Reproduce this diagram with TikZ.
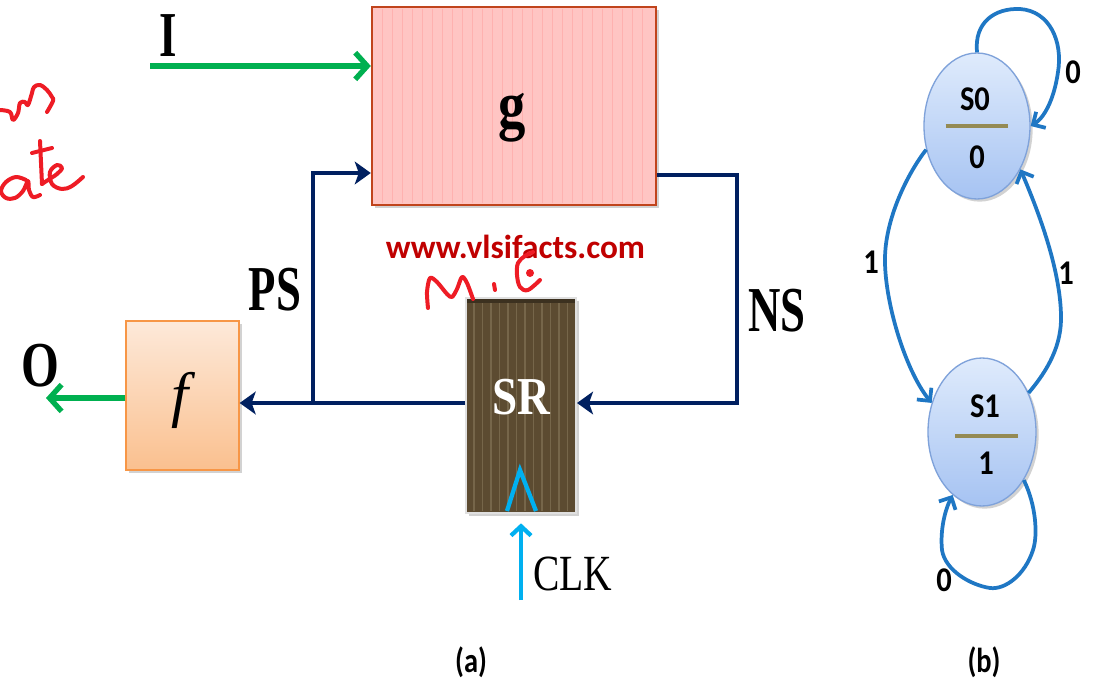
\documentclass[tikz,border=0pt]{standalone}
\usepackage{fontspec}
\setmainfont{Liberation Serif}
\newfontfamily\cali{Carlito}
\usetikzlibrary{arrows.meta,shapes.geometric,shadows,calc}
\definecolor{navy}{HTML}{002060}
\definecolor{grn}{HTML}{00B050}
\definecolor{cyanc}{HTML}{00B0F0}
\definecolor{pinkf}{HTML}{FFC5C3}
\definecolor{rust}{HTML}{C0441C}
\definecolor{srbrown}{HTML}{5C4B31}
\definecolor{srstripe}{HTML}{76664A}
\definecolor{ftop}{HTML}{FDE9D9}
\definecolor{fbot}{HTML}{FAC08F}
\definecolor{fdraw}{HTML}{F79646}
\definecolor{sttop}{HTML}{DFEBFC}
\definecolor{stbot}{HTML}{A6C3F2}
\definecolor{stdraw}{HTML}{7FA2DA}
\definecolor{stline}{HTML}{1F77C4}
\definecolor{olive}{HTML}{948A54}
\definecolor{webred}{HTML}{C00000}
\definecolor{pen}{HTML}{EE1C25}
\newcommand\sqz[2]{\scalebox{#1}[1]{#2}}
\begin{document}
\begin{tikzpicture}[x=0.75pt,y=-0.75pt,
  wire/.style={navy,line width=3.5pt},
  navytip/.style={-{Stealth[length=12pt,width=17pt,inset=3pt]}},
  grnarrow/.style={grn,line width=4pt,-{Straight Barb[length=9pt,width=20pt]}},
  clkline/.style={cyanc,line width=3.2pt},
  bigl/.style={inner sep=0,font=\fontsize{48}{50}\selectfont\bfseries},
  shade1/.style={drop shadow={opacity=0.35,shadow xshift=2pt,shadow yshift=-2pt}},
  gbox/.style={rectangle,fill=pinkf,draw=rust,line width=1.8pt,inner sep=0,shade1},
  srbox/.style={rectangle,fill=srbrown,draw=black!12,line width=1.5pt,inner sep=0,shade1},
  fbox/.style={rectangle,top color=ftop,bottom color=fbot,draw=fdraw,line width=1pt,inner sep=0,shade1},
  state/.style={ellipse,inner sep=0,top color=sttop,bottom color=stbot,draw=stdraw,line width=1pt,shade1},
  stxt/.style={inner sep=0,font=\cali\bfseries\fontsize{26}{28}\selectfont},
  sarrow/.style={stline,line width=2.8pt,-{Straight Barb[length=7pt,width=14pt]}},
  divider/.style={olive,line width=3pt},
  pensty/.style={pen,line width=3pt,line cap=round,line join=round}]
\fill[white] (0,0) rectangle (1097,685);
\useasboundingbox (0,0) rectangle (1097,685);

% ---- boxes ----
\node[gbox,minimum width=213pt,minimum height=148.5pt] (g) at (514,106) {};
\foreach \x in {382,392,...,650} \draw[red!40!pinkf,line width=0.5pt,opacity=0.25] (\x,9) -- (\x,203);
\node[inner sep=0,font=\fontsize{50}{52}\selectfont\bfseries] (glab) at (512,118) {\sqz{0.82}{g}};

\node[srbox,minimum width=82.5pt,minimum height=161.25pt] (SR) at (521,405.5) {};
\foreach \x in {474,482.5,...,572} \draw[srstripe,line width=0.8pt] (\x,300) -- (\x,511);
\draw[black!35!srbrown,line width=2.5pt] (467,301) -- (575,301);
\node[inner sep=0,anchor=base,text=white,font=\fontsize{40}{42}\selectfont\bfseries] (SRlab) at (521,414) {\sqz{0.85}{SR}};

\node[fbox,minimum width=84.75pt,minimum height=111.75pt] (f) at (182.5,395.5) {};
\node[inner sep=0,font=\fontsize{46}{48}\selectfont\itshape] (flab) at (180,400) {f};

% ---- wires ----
\coordinate (Iin) at (150,66);
\draw[grnarrow] (Iin) -- (g.west |- Iin);
\node[bigl,anchor=base] (Ilab) at (168,57) {\sqz{0.7}{I}};

\coordinate (nsT) at (737,175);
\coordinate (nsB) at (737,403);
\draw[wire,navytip] (g.east |- nsT) -- (nsT) -- (nsB) -- (SR.east |- nsB);
\coordinate (psT) at (313,173);
\coordinate (psB) at (313,403);
\draw[wire,navytip] (SR.west |- psB) -- (psB) -- (psT) -- (g.west |- psT);
\draw[wire,navytip] (psB) -- (f.east |- psB);

\coordinate (Oout) at (46,398);
\draw[grnarrow] (f.west |- Oout) -- (Oout);
\node[bigl,anchor=base] (Olab) at (40,386) {\sqz{0.76}{O}};

\node[bigl,anchor=base] (PSlab) at (275,310) {\sqz{0.7}{PS}};
\node[bigl,anchor=base] (NSlab) at (777,331) {\sqz{0.7}{NS}};

% clock
\coordinate (clkS) at (521,600);
\draw[clkline,-{Straight Barb[length=7pt,width=15pt]}] (clkS) -- ([yshift=-7pt]SR.south);
\draw[clkline] (507,511) -- (520,470) -- (536,511);
\node[inner sep=0,anchor=base west,font=\fontsize{38}{40}\selectfont] (CLK) at (533,590) {\sqz{0.78}{CLK}};

% web text
\node[inner sep=0,anchor=base,text=webred,font=\cali\bfseries\fontsize{25}{27}\selectfont] (web) at (515.5,258) {www.vlsifacts.com};

% captions
\node[inner sep=0,font=\cali\bfseries\fontsize{26}{28}\selectfont] (capa) at (471,662) {\sqz{0.82}{(a)}};
\node[inner sep=0,font=\cali\bfseries\fontsize{26}{28}\selectfont] (capb) at (984,662) {\sqz{0.82}{(b)}};

% ---- state diagram ----
\node[state,minimum width=79.5pt,minimum height=109.5pt] (S0) at (977,126) {};
\node[state,minimum width=81pt,minimum height=111pt] (S1) at (982,432) {};
\draw[divider] ([xshift=-23.5pt]S0.center) -- ([xshift=23.5pt]S0.center);
\draw[divider] ([xshift=-20pt,yshift=-3pt]S1.center) -- ([xshift=27pt,yshift=-3pt]S1.center);
\node[stxt] (S0n) at (975,99) {\sqz{0.88}{S0}};
\node[stxt] (S0o) at (977,157) {\sqz{0.88}{0}};
\node[stxt] (S1n) at (985,406) {\sqz{0.88}{S1}};
\node[stxt] (S1o) at (986,463) {\sqz{0.88}{1}};

\draw[sarrow] (S0.north) .. controls (974,22) and (995,8) .. (1020,9) .. controls (1050,11) and (1063,42) .. (1058,72) .. controls (1054,100) and (1044,118) .. (S0.east);
\draw[sarrow] (S0.205) .. controls (910,170) and (886,215) .. (885,257) .. controls (884,300) and (905,370) .. (S1.150);
\draw[sarrow] (S1.40) .. controls (1048,370) and (1062,345) .. (1061,315) .. controls (1060,270) and (1040,215) .. (S0.315);
\draw[sarrow] (S1.311) .. controls (1036,505) and (1038,535) .. (1033,550) .. controls (1025,575) and (1005,590) .. (990,588) .. controls (970,585) and (945,570) .. (942,550) .. controls (940,530) and (945,510) .. (S1.245);

\node[stxt] (l0a) at (1073,72) {\sqz{0.88}{0}};
\node[stxt] (l1a) at (871,262) {\sqz{0.88}{1}};
\node[stxt] (l1b) at (1066,273) {\sqz{0.88}{1}};
\node[stxt] (l0b) at (944,580) {\sqz{0.88}{0}};

% ---- handwriting ----
\draw[pensty] plot[smooth,tension=0.6] coordinates {(0,110) (10,112) (13,120) (18,113) (20,103) (25,102) (28,105) (32,93) (34,87) (40,85) (47,90) (52,97) (53,101) (47,112)};
\draw[pensty] plot[smooth,tension=0.6] coordinates {(26,180) (16,177) (6,182) (1,191) (6,198) (15,198) (23,191) (28,181) (29,190) (33,197) (40,195)};
\draw[pensty] (40,141) -- (42,184);
\draw[pensty] (32,153) -- (52,148);
\draw[pensty] plot[smooth,tension=0.6] coordinates {(42,184) (48,180) (57,174) (62,168) (57,165) (50,172) (52,184) (62,189) (72,186) (83,177)};
\draw[pensty] plot[smooth,tension=0.5] coordinates {(428,308) (427,292) (430,278) (437,282) (447,294) (452,297) (457,289) (462,277) (467,283) (473,299)};
\draw[pensty] (494,284) -- (495,290);
\draw[pensty] plot[smooth,tension=0.6] coordinates {(533,252) (525,256) (518,263) (517,275) (520,287) (528,290) (540,280)};
\fill[pen] (530,273) circle (4);
\end{tikzpicture}
\end{document}
